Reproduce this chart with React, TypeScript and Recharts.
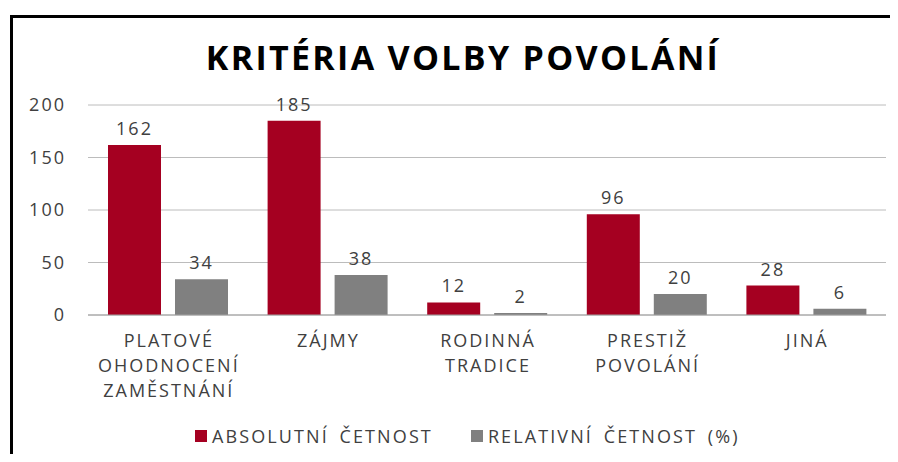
import { BarChart, Bar, XAxis, YAxis, CartesianGrid, LabelList } from "recharts";

const categories = [
  "PLATOVÉ\nOHODNOCENÍ\nZAMĚSTNÁNÍ",
  "ZÁJMY",
  "RODINNÁ\nTRADICE",
  "PRESTIŽ\nPOVOLÁNÍ",
  "JINÁ",
];
const absolutni = [162, 185, 12, 96, 28];
const relativni = [34, 38, 2, 20, 6];
const yTicks = [0, 50, 100, 150, 200];

const seriesNames = ["ABSOLUTNÍ ČETNOST", "RELATIVNÍ ČETNOST (%)"];
const colors = ["#a50021", "#808080"];

const data = categories.map((c, i) => ({
  name: c,
  abs: absolutni[i],
  rel: relativni[i],
}));

const font = "'Open Sans', sans-serif";
const textColor = "#404040";
const spacing = 2;

function CategoryTick(props: any) {
  const { x, y, payload } = props;
  const lines = String(payload.value).split("\n");
  return (
    <text
      x={x}
      y={y}
      textAnchor="middle"
      fill={textColor}
      fontSize={18}
      fontFamily={font}
      letterSpacing={spacing}
    >
      {lines.map((l, i) => (
        <tspan key={i} x={x + spacing / 2} dy={i === 0 ? 24 : 25}>
          {l}
        </tspan>
      ))}
    </text>
  );
}

export default function App() {
  return (
    <div style={{ position: "relative", width: 898, height: 462, margin: -8, overflow: "hidden", background: "#fff" }}>
      <div
        style={{
          position: "absolute",
          left: 10,
          top: 15,
          width: 900,
          height: 460,
          borderTop: "3px solid #000",
          borderLeft: "3px solid #000",
        }}
      />
      <div
        style={{
          position: "absolute",
          left: 14,
          width: 898,
          top: 34,
          textAlign: "center",
          fontFamily: font,
          fontWeight: 700,
          fontSize: 34,
          letterSpacing: 2.3,
          color: "#000",
        }}
      >
        KRITÉRIA VOLBY POVOLÁNÍ
      </div>
      <div style={{ position: "absolute", left: 0, top: 0 }}>
        <BarChart
          width={898}
          height={462}
          data={data}
          margin={{ top: 105, right: 12, bottom: 0, left: 0 }}
          barCategoryGap={20}
          barGap={14}
        >
          <CartesianGrid vertical={false} stroke="#bcbcbc" />
          <XAxis
            dataKey="name"
            axisLine={{ stroke: "#a0a0a0" }}
            tickLine={false}
            tick={<CategoryTick />}
            interval={0}
            height={147}
          />
          <YAxis
            domain={[0, 200]}
            ticks={yTicks}
            axisLine={false}
            tickLine={false}
            width={88}
            tickMargin={16}
            tick={{ fill: textColor, fontSize: 18, fontFamily: font, letterSpacing: spacing }}
          />
          <Bar dataKey="abs" fill={colors[0]} isAnimationActive={false}>
            <LabelList
              dataKey="abs"
              position="top"
              offset={10}
              fill={textColor}
              fontSize={18}
              fontFamily={font}
              letterSpacing={spacing}
            />
          </Bar>
          <Bar dataKey="rel" fill={colors[1]} isAnimationActive={false}>
            <LabelList
              dataKey="rel"
              position="top"
              offset={10}
              fill={textColor}
              fontSize={18}
              fontFamily={font}
              letterSpacing={spacing}
            />
          </Bar>
        </BarChart>
      </div>
      <div
        style={{
          position: "absolute",
          left: 195,
          top: 424,
          display: "flex",
          alignItems: "center",
          fontFamily: font,
          fontSize: 18,
          letterSpacing: 2.1,
          wordSpacing: 4,
          color: textColor,
          whiteSpace: "nowrap",
        }}
      >
        {seriesNames.map((n, i) => (
          <div key={n} style={{ display: "flex", alignItems: "center", marginRight: 38 }}>
            <span style={{ display: "inline-block", width: 12, height: 12, background: colors[i], marginRight: 5 }} />
            <span>{n}</span>
          </div>
        ))}
      </div>
    </div>
  );
}
